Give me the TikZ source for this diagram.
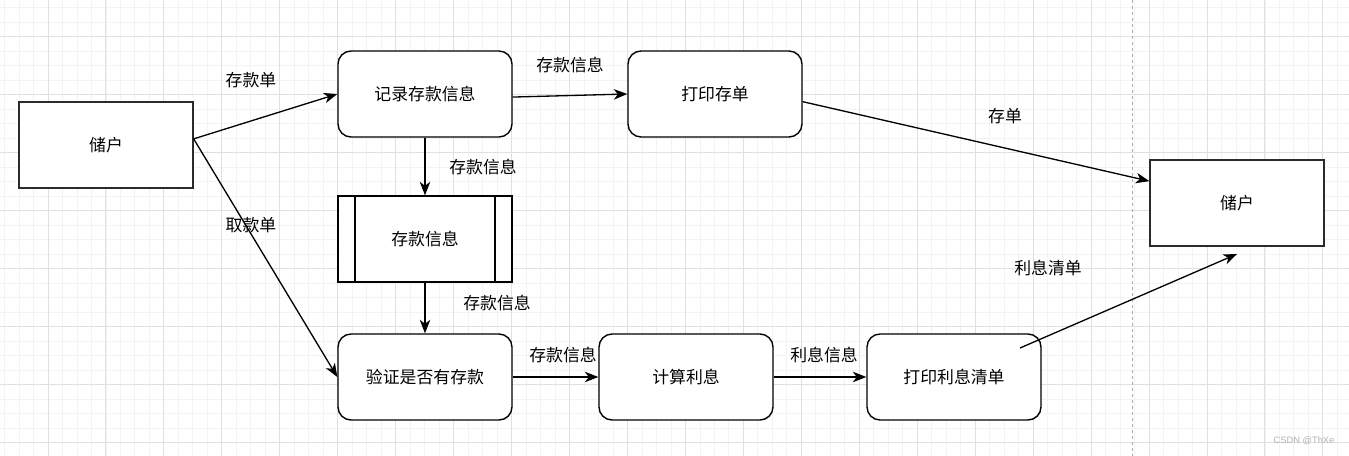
\documentclass[tikz,border=0pt]{standalone}
\usepackage{fontspec}
\setmainfont{Noto Sans CJK SC}
\newfontfamily\markfont{Liberation Sans}
\usetikzlibrary{arrows.meta}

\definecolor{minorgrid}{HTML}{F3F3F3}
\definecolor{majorgrid}{HTML}{E0E0E0}
\definecolor{boxline}{HTML}{2B2B2B}

\begin{document}
\begin{tikzpicture}[x=0.02cm,y=-0.02cm,
  entity/.style={draw=boxline,line width=0.8pt,fill=white,minimum width=3.48cm,minimum height=1.72cm,inner sep=0pt,font=\fontsize{9.6}{11}\selectfont},
  proc/.style={entity,draw=black,rounded corners=0.26cm},
  store/.style={entity,draw=black},
  flowlabel/.style={inner sep=0pt,font=\fontsize{9.6}{11}\selectfont},
  flow/.style={line width=0.75pt,-{Stealth[length=0.27cm,width=0.21cm,inset=0.08cm]}}]

\fill[white] (0,0) rectangle (1349,456);
\useasboundingbox (0,0) rectangle (1349,456);

\foreach \i in {0,...,94} {\draw[minorgrid,line width=0.45pt] ({-10+14.4875*\i},0) -- ++(0,456);}
\foreach \i in {0,...,33} {\draw[minorgrid,line width=0.45pt] (0,{-21.1+14.4875*\i}) -- ++(1349,0);}
\foreach \i in {0,...,23} {\draw[majorgrid,line width=0.5pt] ({-10+57.95*\i},0) -- ++(0,456);}
\foreach \i in {0,...,8} {\draw[majorgrid,line width=0.5pt] (0,{-21.1+57.95*\i}) -- ++(1349,0);}

\draw[gray!65,line width=0.5pt,dash pattern=on 1.7pt off 1.7pt] (1132,0) -- (1132,456);

\node[entity] (hu1) at (106,145) {储户};
\node[proc] (jl) at (425,94) {记录存款信息};
\node[proc] (dy) at (715,94) {打印存单};
\node[entity] (hu2) at (1237,203) {储户};
\node[store] (cx) at (425,239) {存款信息};
\node[proc] (yz) at (425,377) {验证是否有存款};
\node[proc] (js) at (686,377) {计算利息};
\node[proc] (dl) at (954,377) {打印利息清单};

\draw[line width=0.8pt] ([xshift=0.35cm]cx.north west) -- ([xshift=0.35cm]cx.south west);
\draw[line width=0.8pt] ([xshift=-0.35cm]cx.north east) -- ([xshift=-0.35cm]cx.south east);

\coordinate (lxs) at (1020,348);
\coordinate (lxe) at (1237,254);

\draw[flow] (hu1.4) -- (jl.west);
\draw[flow] (hu1.4) -- (yz.west);
\draw[flow] (jl.-2) -- (dy.west);
\draw[flow] (dy.-5) -- (hu2.166);
\draw[flow] (jl.south) -- (cx.north);
\draw[flow] (cx.south) -- (yz.north);
\draw[flow] (yz.east) -- (js.west);
\draw[flow] (js.east) -- (dl.west);
\draw[flow] (lxs) -- (lxe);

\node[flowlabel] (l1) at (251,80) {存款单};
\node[flowlabel] (l2) at (251,225) {取款单};
\node[flowlabel] (l3) at (570,65) {存款信息};
\node[flowlabel] (l4) at (1005,116) {存单};
\node[flowlabel] (l5) at (483,167) {存款信息};
\node[flowlabel] (l6) at (497,303) {存款信息};
\node[flowlabel] (l7) at (563,355) {存款信息};
\node[flowlabel] (l8) at (824,355) {利息信息};
\node[flowlabel] (l9) at (1048,268) {利息清单};

\node[inner sep=0pt,text=gray!60,font=\markfont\fontsize{5.3}{7}\selectfont] (wm) at (1304,441) {CSDN @ThXe};

\end{tikzpicture}
\end{document}
